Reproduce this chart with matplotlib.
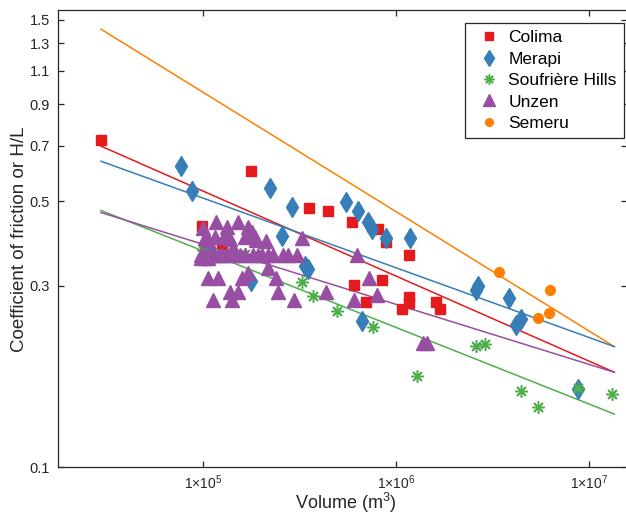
import matplotlib
matplotlib.use("Agg")
import matplotlib.pyplot as plt
from matplotlib.ticker import FixedLocator, FixedFormatter, NullLocator

plt.rcParams['font.family'] = ['Liberation Sans', 'DejaVu Sans']
plt.rcParams['mathtext.fontset'] = 'custom'
plt.rcParams['mathtext.rm'] = 'Liberation Sans'
plt.rcParams['mathtext.default'] = 'regular'

# Colima
colima_v = [2.97e4, 1.78e5, 0.99e5, 1.26e5, 3.56e5, 4.46e5, 5.94e5, 8.10e5, 8.91e5,
            1.172e6, 6.08e5, 8.49e5, 7.02e5, 1.172e6, 1.172e6, 1.078e6, 1.618e6, 1.696e6]
colima_mu = [0.725, 0.601, 0.431, 0.386, 0.480, 0.472, 0.441, 0.423, 0.391,
             0.361, 0.301, 0.311, 0.272, 0.280, 0.270, 0.261, 0.272, 0.261]

# Merapi
merapi_v = [7.72e4, 8.80e4, 2.23e5, 2.90e5, 2.58e5, 1.09e5, 1.78e5, 3.39e5, 3.51e5,
            5.53e5, 6.38e5, 7.19e5, 7.54e5, 8.91e5, 1.186e6, 6.69e5, 2.58e6, 2.67e6,
            3.86e6, 4.20e6, 4.46e6, 8.80e6]
merapi_mu = [0.619, 0.532, 0.542, 0.483, 0.405, 0.370, 0.309, 0.338, 0.332,
             0.498, 0.472, 0.441, 0.423, 0.401, 0.401, 0.242, 0.293, 0.300,
             0.279, 0.237, 0.245, 0.161]

# Soufriere Hills
soufriere_v = [1.00e5, 1.66e5, 3.27e5, 3.73e5, 4.97e5, 7.63e5, 1.29e6, 2.58e6, 2.90e6,
               4.46e6, 5.46e6, 8.70e6, 1.32e7]
soufriere_mu = [0.373, 0.364, 0.307, 0.282, 0.258, 0.234, 0.174, 0.208, 0.211,
                0.159, 0.144, 0.162, 0.156]

# Unzen
unzen_v = [1.00e5, 1.165e5, 1.34e5, 1.52e5, 1.72e5, 1.03e5, 1.065e5, 1.16e5, 1.28e5,
           1.385e5, 1.66e5, 1.87e5, 2.13e5, 1.80e5, 1.89e5, 3.27e5, 1.43e5,
           0.98e5, 1.03e5, 1.091e5, 1.131e5, 1.20e5, 1.26e5, 1.336e5, 1.435e5, 1.561e5,
           1.657e5, 1.822e5, 1.934e5, 2.029e5, 2.179e5, 2.313e5, 2.607e5, 2.767e5, 3.081e5,
           0.98e5, 1.03e5, 1.065e5, 6.30e5, 2.18e5,
           1.061e5, 1.196e5, 1.593e5, 1.72e5, 2.40e5, 1.385e5, 1.52e5, 2.456e5,
           1.131e5, 1.418e5, 2.97e5, 4.355e5, 7.27e5, 6.08e5, 8.0e5, 1.385e6, 1.453e6]
unzen_mu = [0.426, 0.441, 0.427, 0.441, 0.427, 0.400, 0.395, 0.403, 0.403,
            0.398, 0.403, 0.403, 0.392, 0.416, 0.396, 0.401, 0.377,
            0.361, 0.361, 0.361, 0.361, 0.361, 0.361, 0.361, 0.361, 0.361,
            0.361, 0.361, 0.361, 0.361, 0.361, 0.361, 0.361, 0.361, 0.361,
            0.355, 0.355, 0.355, 0.361, 0.334,
            0.314, 0.314, 0.314, 0.324, 0.314, 0.289, 0.289, 0.289,
            0.275, 0.275, 0.275, 0.289, 0.314, 0.275, 0.284, 0.212, 0.212]

# Semeru
semeru_v = [3.43e6, 6.30e6, 6.23e6, 5.46e6]
semeru_mu = [0.325, 0.293, 0.254, 0.246]

# power-law fits (end points)
fit_v = [2.97e4, 1.35e7]
fit_colima = [0.698, 0.1777]
fit_merapi = [0.637, 0.2075]
fit_soufriere = [0.473, 0.138]
fit_unzen = [0.467, 0.1777]
fit_semeru = [1.416, 0.2075]

xticks = [1e5, 1e6, 1e7]
xtick_labels = ['1×10$^{5}$', '1×10$^{6}$', '1×10$^{7}$']
yticks = [0.1, 0.3, 0.5, 0.7, 0.9, 1.1, 1.3, 1.5]
ytick_labels = ['0.1', '0.3', '0.5', '0.7', '0.9', '1.1', '1.3', '1.5']

c_red = '#e41a1c'
c_blue = '#377eb8'
c_green = '#4daf4a'
c_purple = '#984ea3'
c_orange = '#ff7f00'

fig = plt.figure(figsize=(6.26, 5.14), dpi=100)
ax = fig.add_axes([58 / 626, 1 - 467.3 / 514, 568.5 / 626, 457.3 / 514])

ax.plot(fit_v, fit_semeru, color=c_orange, lw=1.1, zorder=2)
ax.plot(fit_v, fit_colima, color=c_red, lw=1.1, zorder=2)
ax.plot(fit_v, fit_merapi, color=c_blue, lw=1.1, zorder=2)
ax.plot(fit_v, fit_soufriere, color=c_green, lw=1.1, zorder=2)
ax.plot(fit_v, fit_unzen, color=c_purple, lw=1.1, zorder=2)

ax.plot(colima_v, colima_mu, 's', color=c_red, ms=6.5, mec=c_red, label='Colima', zorder=3)
ax.plot(merapi_v, merapi_mu, 'd', color=c_blue, ms=10, mec=c_blue, label='Merapi', zorder=3)
ax.plot(soufriere_v, soufriere_mu, ls='none', marker=(8, 2, 0), color=c_green, ms=9,
        mew=1.1, label='Soufrière Hills', zorder=3)
ax.plot(unzen_v, unzen_mu, '^', color=c_purple, ms=10, mec=c_purple, label='Unzen', zorder=3)
ax.plot(semeru_v, semeru_mu, 'o', color=c_orange, ms=7, mec=c_orange, label='Semeru', zorder=3)

ax.set_xscale('log')
ax.set_yscale('log')
ax.set_xlim(1.78e4, 1.56e7)
ax.set_ylim(0.1, 1.59)

ax.xaxis.set_major_locator(FixedLocator(xticks))
ax.xaxis.set_major_formatter(FixedFormatter(xtick_labels))
ax.yaxis.set_major_locator(FixedLocator(yticks))
ax.yaxis.set_major_formatter(FixedFormatter(ytick_labels))
ax.xaxis.set_minor_locator(NullLocator())
ax.yaxis.set_minor_locator(NullLocator())

ax.tick_params(which='both', direction='in', top=True, right=True, length=4.5,
               width=0.9, labelsize=10.5, colors='#262626', pad=6)
ax.tick_params(axis='x', labelsize=10, pad=4.5)
for s in ax.spines.values():
    s.set_color('#262626')
    s.set_linewidth(0.9)

ax.set_xlabel('Volume (m$^{3}$)', fontsize=13, color='#262626')
ax.xaxis.set_label_coords(0.507, -0.052)
ax.set_ylabel('Coefficient of friction or H/L', fontsize=13.5, color='#262626')
ax.yaxis.set_label_coords(-0.053, 0.498)

leg = ax.legend(loc='upper right', bbox_to_anchor=(0.995, 0.971), borderaxespad=0,
                fontsize=12.5, labelspacing=0.36, fancybox=False, framealpha=1,
                edgecolor='#262626', handletextpad=0.1, handlelength=2.0,
                borderpad=0.4, markerscale=0.8)
leg.get_frame().set_linewidth(0.9)

fig.savefig('out.png', dpi=100)
